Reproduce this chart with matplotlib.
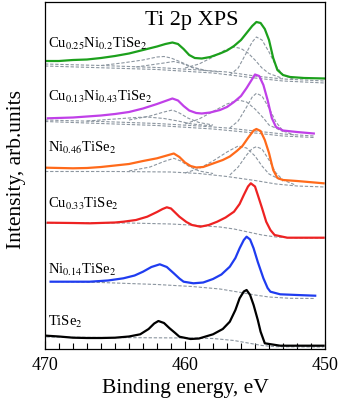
import matplotlib
matplotlib.use('Agg')
import matplotlib.pyplot as plt
from matplotlib.ticker import MultipleLocator

plt.rcParams['font.family'] = ['Liberation Serif', 'DejaVu Serif']
plt.rcParams['mathtext.fontset'] = 'stix'

# measured spectra (binding energy, eV / intensity, arb. units incl. offset)
e_green = [470, 469, 468, 467, 466, 465, 464, 463, 462, 461.4, 460.9, 460.5, 460.1, 459.7, 459.3, 458.8, 458.2,
           457.5, 457, 456.5, 456, 455.6, 455.2, 454.9, 454.6, 454.3, 454, 453.7, 453.4, 453, 452.5, 451.5, 450]
i_green = [288, 288, 289, 289.5, 291, 293, 295.5, 299, 302.5, 305, 306.5, 305, 300, 294, 291, 290.5, 292,
           295.5, 298.5, 303, 309, 316, 323, 327, 326, 320, 309, 291, 279, 274, 272, 271, 270.5]

e_purple = [469.8, 468, 467, 466, 465, 464, 463, 462, 461.4, 460.9, 460.5, 460.1, 459.7, 459.2, 458.8, 458.2,
            457.5, 457, 456.5, 456, 455.6, 455.2, 455.0, 454.7, 454.4, 454.1, 453.8, 453.5, 453, 452, 450.8]
i_purple = [230.7, 231.5, 232.5, 233.5, 235, 237, 240.5, 245, 248, 250.5, 248.5, 243, 238.5, 236, 235.5, 236.5,
            239, 242, 247, 253, 261, 270, 274.5, 273, 264, 249, 231, 222, 218.5, 217, 215.5]

e_orange = [469.9, 468, 467, 466, 465, 464, 463, 462, 461.3, 460.8, 460.4, 460, 459.6, 459.2, 458.7, 458,
            457.3, 456.8, 456.3, 455.9, 455.5, 455.1, 454.9, 454.6, 454.3, 454, 453.7, 453.4, 453, 452, 450.1]
i_orange = [181.3, 180.7, 181, 182, 183.5, 185, 188, 190.7, 193.5, 195.5, 192, 186.5, 183, 181.5, 182, 185.5,
            189, 192.5, 198, 203, 211, 218.5, 220, 218, 209, 196, 179, 171, 169, 168, 165.7]

e_red = [469.8, 468, 466.8, 465, 464.4, 463.5, 462.7, 462, 461.6, 461.3, 461, 460.4, 459.9, 459.5, 458.9, 458.3,
         457.7, 457.1, 456.5, 456.1, 455.8, 455.5, 455.3, 455.0, 454.8, 454.5, 454.2, 453.9, 453.6, 452.7, 450.1]
i_red = [126.3, 126, 125.7, 126.5, 127.3, 129, 132.3, 137, 140, 141.7, 140.5, 132.3, 127, 124, 122.3, 124,
         127.3, 131.5, 137.3, 145, 154, 162.5, 165.7, 162.5, 154, 141, 127.3, 119, 114, 111.3, 111.3]

e_blue = [469.6, 468, 466.8, 465.5, 464.4, 463.6, 463, 462.4, 461.8, 461.3, 460.8, 460.4, 460.1, 459.4, 458.7,
          458, 457.4, 456.8, 456.4, 456.1, 455.8, 455.6, 455.35, 455.1, 454.8, 454.4, 454.1, 453.9, 453.2, 452, 450.7]
i_blue = [67.3, 67.3, 67.3, 68.5, 70.7, 73.5, 77.3, 82, 84.7, 82, 75.7, 70.5, 67.3, 65.7, 66.5,
          70, 74.5, 82.3, 91, 100.7, 109, 112.3, 109.5, 100.7, 87, 70.7, 61, 57.3, 54.7, 54, 53.3]

e_black = [469.9, 469, 468, 467, 466, 465, 464, 463.2, 462.6, 462.2, 461.9, 461.5, 461.1, 460.7, 460.4, 459.6,
           459, 458, 457.3, 456.8, 456.4, 456.1, 455.8, 455.6, 455.35, 455.1, 454.8, 454.6, 454.3, 453.2, 452, 450.1]
i_black = [13.3, 12.5, 11.3, 11, 11, 11.3, 12.5, 14.7, 20, 25.5, 28, 26, 20.7, 16, 12.3, 10,
           10.5, 14.7, 20, 27.3, 39, 50.7, 57.5, 59, 54, 44, 29, 17.3, 5.7, 3.3, 3.3, 3.3]

# fit components (dashed): list of (energy, intensity) pairs per sample
fit_green = [
    ([470, 466, 462, 459, 457, 455, 453, 450], [285, 283.5, 281.5, 279, 277, 273, 270, 268]),
    ([470, 462, 458, 455, 453, 450], [283, 279.5, 276, 271, 268, 266]),
    ([466, 464.5, 463, 462, 461.5, 461, 460.3, 459.5, 458.5, 457.5], [283.5, 286, 289, 292, 292.5, 291, 287, 282, 278.5, 277]),
    ([463.5, 462.5, 461.5, 460.8, 460.2, 459.5, 458.5], [282, 284, 286, 287.5, 285.5, 281.5, 278]),
    ([460, 459, 458, 457.2, 456.5, 456, 455.5, 455, 454.5, 454, 453], [281, 285, 292, 298.5, 302, 300.5, 296, 289, 281, 275.5, 270.5]),
    ([456.8, 456.2, 455.7, 455.2, 454.9, 454.5, 454, 453.5, 453, 452.2], [274, 281, 294, 307, 312, 309, 297, 283, 274, 269.5]),
]
fit_purple = [
    ([470, 466, 462, 459, 457, 455, 453, 450.8], [229, 227.5, 225.5, 223, 221, 218, 215, 213]),
    ([470, 462, 458, 455, 453, 450.8], [227.5, 223.5, 220, 216, 213, 211.5]),
    ([464, 462.5, 461.5, 460.9, 460.4, 459.8, 459, 458], [229, 233, 237, 239, 236, 231, 226.5, 224]),
    ([467, 465, 463.5, 462.7, 461.5, 460.5, 459.5, 458], [228, 230, 231.5, 232, 230.5, 228, 225, 223]),
    ([460, 459, 458, 457, 456.2, 455.6, 455, 454.4, 454, 453], [225, 230, 237.5, 245, 249, 247, 240, 231, 224, 217.5]),
    ([456.8, 456.2, 455.6, 455.2, 454.9, 454.5, 454, 453.5, 453, 452.2], [221, 228, 242, 252, 255.7, 253, 241, 227, 218, 214]),
]
fit_orange = [
    ([470, 465, 461, 459, 457, 455, 453.5, 452, 450], [177.5, 177.5, 177, 175.5, 172.5, 168.5, 165, 163, 162]),
    ([464, 462.5, 461.5, 460.8, 460.3, 459.7, 459, 458], [178, 182, 187.5, 190.7, 188, 182.5, 178, 175.5]),
    ([460, 459, 458, 457, 456.2, 455.6, 455, 454.5, 454, 453], [176, 180.5, 188, 197, 203, 201, 193, 183, 175, 168]),
    ([456.8, 456.2, 455.6, 455.2, 454.9, 454.5, 454, 453.5, 453, 452.2], [174, 182, 194, 200.5, 202.3, 200, 189, 176, 169, 164.5]),
]
fit_red = [
    ([470, 464, 461, 459, 457.5, 456.5, 455.5, 454.5, 453.5, 452, 450], [126, 126, 125, 123.5, 122, 120, 117, 114, 112, 111, 111]),
]
fit_blue = [
    ([469.6, 466, 462, 459.5, 457.5, 456, 455, 454, 452.5, 450.7], [67.5, 66.5, 64.5, 62.5, 60, 56.5, 54, 52, 50.7, 50.5]),
]
fit_black = [
    ([469.9, 466, 462, 459.5, 458, 456.5, 455.5, 454.5, 453.5, 450.1], [12, 11.5, 11.2, 11, 10.5, 8.5, 6, 3.5, 2.3, 2]),
]

labels = ['Cu$_{0.25}$Ni$_{0.2}$TiSe$_2$', 'Cu$_{0.13}$Ni$_{0.43}$TiSe$_2$', 'Ni$_{0.46}$TiSe$_2$',
          'Cu$_{0.33}$TiSe$_2$', 'Ni$_{0.14}$TiSe$_2$', 'TiSe$_2$']
label_y = [301, 248.5, 197, 140.7, 74.7, 23.3]
colors = ['#1ca01c', '#c040e8', '#ff6a1a', '#ee2222', '#1f3cf0', '#000000']

spectra = [(e_green, i_green, fit_green), (e_purple, i_purple, fit_purple), (e_orange, i_orange, fit_orange),
           (e_red, i_red, fit_red), (e_blue, i_blue, fit_blue), (e_black, i_black, fit_black)]

fig = plt.figure(figsize=(3.4, 4.15), dpi=100)
ax = fig.add_axes([45 / 340, 1 - 349 / 415, 280 / 340, 347 / 415])

for (e, inten, fits), lab, ly, c in zip(spectra, labels, label_y, colors):
    for fe, fi in fits:
        ax.plot(fe, fi, color='#8c96a0', lw=0.8, dashes=(3, 1.6))
    ax.plot(e, inten, color=c, lw=1.6)
    ax.text(469.8, ly, lab, fontsize=10.5, va='baseline', ha='left')

ax.text(0.525, 0.934, 'Ti 2p XPS', transform=ax.transAxes, fontsize=16, ha='center', va='baseline')

ax.set_xlim(470, 450)
ax.set_ylim(0, 347)
ax.set_yticks([])
ax.xaxis.set_major_locator(MultipleLocator(10))
ax.xaxis.set_minor_locator(MultipleLocator(1))
ax.tick_params(axis='x', which='major', direction='in', length=6, width=0.8, labelsize=13, pad=6)
ax.tick_params(axis='x', which='minor', direction='in', length=4, width=0.8)
for s in ax.spines.values():
    s.set_linewidth(0.9)

ax.set_xlabel('Binding energy, eV', fontsize=15.5, labelpad=3)
fig.text(17 / 340, 1 - 169 / 415, 'Intensity, arb.units', rotation=90, fontsize=15.5, ha='center', va='center')

fig.savefig('out.png', dpi=100)
